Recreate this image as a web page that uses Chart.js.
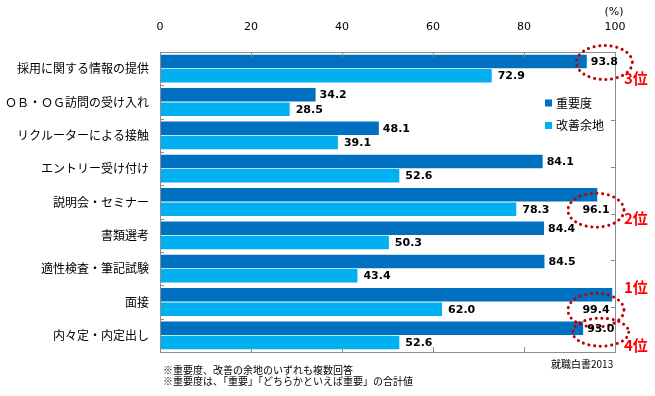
<!DOCTYPE html>
<html>
<head>
<meta charset="utf-8">
<script src="https://cdn.jsdelivr.net/npm/chart.js"></script>
<style>
    body { margin: 0; background: #fff; }
    #wrap { position: relative; width: 655px; height: 396px; }
    .note {
        position: absolute;
        font-family: "Noto Sans CJK JP", sans-serif;
        font-size: 10px;
        line-height: 11px;
        color: #000;
        white-space: nowrap;
    }
</style>
</head>
<body>
<div id="wrap">
    <canvas id="chart" width="655" height="396"></canvas>
    <div class="note" style="left:163px; top:364px;">※重要度、改善の余地のいずれも複数回答</div>
    <div class="note" style="left:163px; top:375px;">※重要度は、「重要」「どちらかといえば重要」の合計値</div>
    <div class="note" style="left:551px; top:358px;">就職白書2013</div>
</div>
<script>
const categories = ['採用に関する情報の提供', 'ＯＢ・ＯＧ訪問の受け入れ', 'リクルーターによる接触', 'エントリー受け付け',
    '説明会・セミナー', '書類選考', '適性検査・筆記試験', '面接', '内々定・内定出し'];
const importance = [93.8, 34.2, 48.1, 84.1, 96.1, 84.4, 84.5, 99.4, 93.0];
const improvement = [72.9, 28.5, 39.1, 52.6, 78.3, 50.3, 43.4, 62.0, 52.6];
const ranks = [3, null, null, null, 2, null, null, 1, 4];
const xTicks = [0, 20, 40, 60, 80, 100];
const seriesNames = ['重要度', '改善余地'];
const colors = ['#0070C0', '#00B0F0'];

const labelFont = 'bold 11px "DejaVu Sans"';

// labels, box, ticks, circles and legend
const decorPlugin = {
    id: 'decor',
    afterDatasetsDraw(chart) {
        const ctx = chart.ctx;
        const area = chart.chartArea;
        const x = chart.scales.x;
        const y2 = chart.scales.y2;
        ctx.save();

        // plot box
        ctx.strokeStyle = '#8c8c8c';
        ctx.lineWidth = 1;
        ctx.strokeRect(Math.round(area.left) + 0.5, Math.round(area.top) + 0.5,
            Math.round(area.right - area.left), Math.round(area.bottom - area.top));

        // small inner tick marks
        ctx.beginPath();
        xTicks.slice(1, -1).forEach(v => {
            const px = Math.round(x.getPixelForValue(v)) + 0.5;
            ctx.moveTo(px, area.top); ctx.lineTo(px, area.top + 5);
            ctx.moveTo(px, area.bottom); ctx.lineTo(px, area.bottom - 5);
        });
        const step = (area.bottom - area.top) / categories.length;
        for (let i = 1; i < categories.length; i++) {
            const py = Math.round(area.top + step * i) + 0.5;
            ctx.moveTo(area.left, py); ctx.lineTo(area.left + 4, py);
        }
        for (let k = 1; k <= 5; k++) {
            const py = Math.round(y2.getPixelForValue(k)) + 0.5;
            ctx.moveTo(area.right, py); ctx.lineTo(area.right - 4, py);
        }
        ctx.stroke();

        // (%) unit
        ctx.fillStyle = '#000';
        ctx.font = '11px "DejaVu Sans"';
        ctx.textAlign = 'center';
        ctx.textBaseline = 'middle';
        ctx.fillText('(%)', x.getPixelForValue(100) - 1, 12);

        // data label positions
        const m0 = chart.getDatasetMeta(0);
        const m1 = chart.getDatasetMeta(1);
        const spots = [];
        importance.forEach((v, i) => {
            const bar = m0.data[i];
            if (v > 95) {
                const right = x.getPixelForValue(98.8);
                spots.push({ text: v.toFixed(1), x: right, y: m1.data[i].y, align: 'right' });
            } else {
                spots.push({ text: v.toFixed(1), x: bar.x + 4, y: bar.y, align: 'left' });
            }
        });
        const spots1 = improvement.map((v, i) => ({
            text: v.toFixed(1), x: m1.data[i].x + 6, y: m1.data[i].y, align: 'left'
        }));

        // dotted circles around top ranks
        ctx.font = labelFont;
        ranks.forEach((r, i) => {
            if (!r) return;
            const s = spots[i];
            const w = ctx.measureText(s.text).width;
            const cx = s.align === 'left' ? s.x + w / 2 : s.x - w / 2;
            const cy = s.y + (r === 4 ? 4 : 1);
            ctx.beginPath();
            ctx.ellipse(cx, cy, 28, r === 4 ? 14 : 17, 0, 0, Math.PI * 2);
            ctx.strokeStyle = '#C00000';
            ctx.lineWidth = 3;
            ctx.lineCap = 'round';
            ctx.setLineDash([0.1, 5.6]);
            ctx.stroke();
            ctx.setLineDash([]);
        });

        // data labels
        ctx.fillStyle = '#000';
        ctx.textBaseline = 'middle';
        spots.concat(spots1).forEach(s => {
            ctx.textAlign = s.align;
            ctx.fillText(s.text, s.x, s.y + 0.5);
        });

        // rank texts
        const rankDy = { 1: -22, 2: 9, 3: 17, 4: 17 };
        ctx.font = 'bold 15px "Noto Sans CJK JP"';
        ctx.fillStyle = '#FF0000';
        ctx.textAlign = 'left';
        ranks.forEach((r, i) => {
            if (!r) return;
            ctx.fillText(r + '位', area.right + 9, spots[i].y + rankDy[r]);
        });

        // legend
        ctx.font = '12px "Noto Sans CJK JP"';
        seriesNames.forEach((name, k) => {
            const ly = area.top + 51 + k * 22.5;
            ctx.fillStyle = colors[k];
            ctx.fillRect(area.right - 70, ly - 3.5, 7, 7);
            ctx.fillStyle = '#000';
            ctx.fillText(name, area.right - 59, ly);
        });

        ctx.restore();
    }
};

new Chart(document.getElementById('chart'), {
    type: 'bar',
    data: {
        labels: categories,
        datasets: [
            { label: seriesNames[0], data: importance, backgroundColor: colors[0] },
            { label: seriesNames[1], data: improvement, backgroundColor: colors[1] }
        ]
    },
    options: {
        indexAxis: 'y',
        responsive: false,
        animation: false,
        layout: { padding: { top: 0, right: 40, bottom: 44, left: 0 } },
        datasets: {
            bar: { categoryPercentage: 0.86, barPercentage: 0.94, borderWidth: 0 }
        },
        plugins: {
            legend: { display: false },
            tooltip: { enabled: false }
        },
        scales: {
            x: {
                type: 'linear',
                position: 'top',
                min: 0,
                max: 100,
                afterBuildTicks: axis => { axis.ticks = xTicks.map(v => ({ value: v })); },
                ticks: { color: '#000', font: { family: 'DejaVu Sans', size: 11 }, padding: 18 },
                grid: { display: false, drawTicks: false },
                border: { display: false },
                afterFit: axis => { axis.height = 52; }
            },
            y: {
                type: 'category',
                position: 'left',
                ticks: { color: '#000', font: { family: 'Noto Sans CJK JP', size: 12 }, padding: 11 },
                grid: { display: false, drawTicks: false },
                border: { display: false },
                afterFit: axis => { axis.width = 160; }
            },
            y2: {
                type: 'linear',
                position: 'right',
                reverse: true,
                min: 0,
                max: 5.5,
                ticks: { display: false },
                grid: { display: false, drawTicks: false },
                border: { display: false },
                afterFit: axis => { axis.width = 0; }
            }
        }
    },
    plugins: [decorPlugin]
});
</script>
</body>
</html>
